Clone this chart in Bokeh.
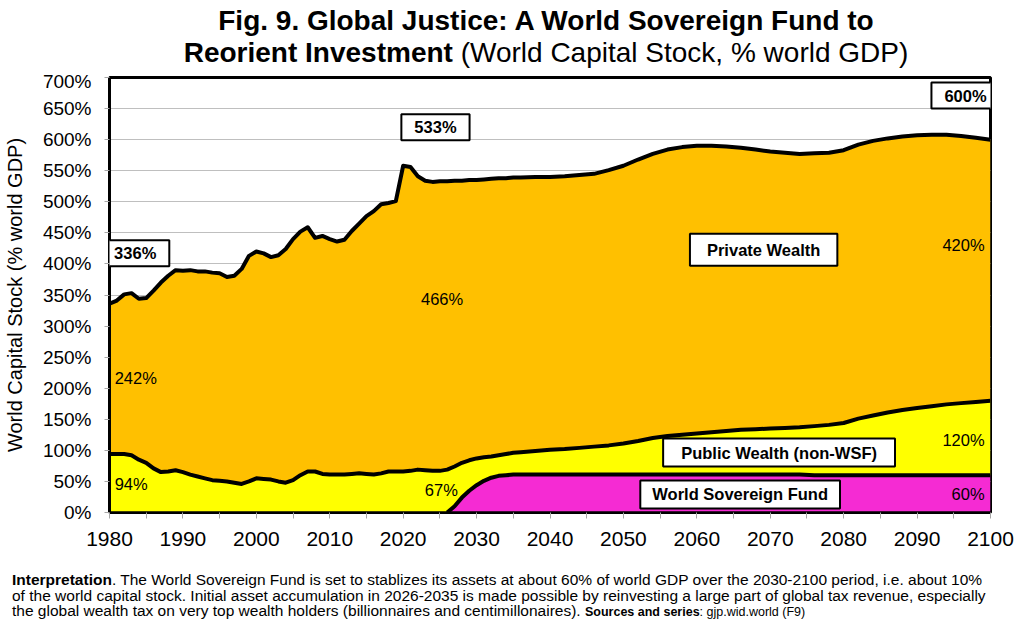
from bokeh.plotting import figure
from bokeh.layouts import column
from bokeh.models import (ColumnDataSource, Label, Range1d, FixedTicker,
                          PrintfTickFormatter, Div)
from bokeh.transform import stack
from bokeh.embed import file_html
from bokeh.resources import INLINE

# ---------------------------------------------------------------------------
# Data: world capital stock by owner, % of world GDP
# annual 1980-2035, then every two years to 2100
# ---------------------------------------------------------------------------
years = list(range(1980, 2036)) + list(range(2036, 2101, 2))

world_sovereign_fund = [
    # 1980-2025
    0, 0, 0, 0, 0, 0, 0, 0, 0, 0,
    0, 0, 0, 0, 0, 0, 0, 0, 0, 0,
    0, 0, 0, 0, 0, 0, 0, 0, 0, 0,
    0, 0, 0, 0, 0, 0, 0, 0, 0, 0,
    0, 0, 0, 0, 0, 0,
    # 2026-2035
    0, 10, 24, 35, 44, 51, 56, 59, 60, 61,
    # 2036-2100 (every 2 years)
    61, 61, 61, 61, 61, 61, 61, 61, 61, 61,
    61, 61, 61, 61, 61, 61, 61, 61, 61, 61,
    60, 60, 60, 60, 60, 60, 60, 60, 60, 60,
    60, 60, 60,
]

public_wealth = [
    # 1980-2025
    94, 94, 94, 92, 85, 80, 71, 65, 66, 68,
    65, 61, 58, 55, 52, 51, 50, 48, 46, 50,
    55, 54, 53, 50, 48, 52, 60, 66, 66, 62,
    61, 61, 61, 62, 63, 62, 61, 63, 66, 66,
    66, 67, 69, 68, 67, 67,
    # 2026-2035
    69, 64, 56, 49, 43, 38, 34, 33, 34, 35,
    # 2036-2100 (every 2 years)
    36, 38, 40, 41, 43, 45, 47, 50, 54, 59,
    62, 64, 66, 68, 70, 72, 73, 74, 75, 76,
    79, 81, 84, 91, 96, 101, 105, 108, 111, 114,
    116, 118, 120,
]

private_wealth = [
    # 1980-2025
    242, 247, 257, 261, 259, 265, 286, 305, 315, 322,
    324, 329, 330, 333, 334, 334, 329, 333, 346, 363,
    365, 363, 358, 364, 376, 388, 392, 393, 376, 383,
    379, 375, 378, 391, 402, 415, 424, 433, 432, 435,
    492, 489, 472, 466, 465, 466,
    # 2026-2035
    464, 460, 454, 451, 448, 447, 447, 446, 444, 443,
    # 2036-2100 (every 2 years)
    442, 441, 439, 439, 439, 439, 443, 447, 453, 457,
    461, 463, 463, 461, 458, 454, 450, 446, 443, 440,
    439, 438, 439, 441, 442, 441, 440, 439, 437, 434,
    430, 425, 420,
]

y_ticks = list(range(0, 701, 50))
x_ticks = list(range(1980, 2101, 10))
x_minor = list(range(1985, 2100, 10))

GOLD = "#FFC000"
YELLOW = "#FFFF00"
MAGENTA = "#F52BD3"
FONT = "Liberation Sans"

W = 1024
TITLE_H = 70      # title band
CHART_H = 495     # chart band (axes + plot frame)
NOTE_H = 67       # note band

# ---------------------------------------------------------------- title
title_html = (
    f"<div style=\"font-family:'{FONT}'; font-size:28px; line-height:32px; "
    "color:black; text-align:center; white-space:nowrap; "
    "padding:5px 0 0 68px; box-sizing:border-box; width:1024px;\">"
    "<b>Fig. 9. Global Justice: A World Sovereign Fund to</b><br>"
    "<b>Reorient Investment</b> (World Capital Stock, % world GDP)"
    "</div>"
)
title = Div(text=title_html, width=W, height=TITLE_H, margin=(0, 0, 0, 0))

# ---------------------------------------------------------------- chart
src = ColumnDataSource(dict(year=years, wsf=world_sovereign_fund,
                            public=public_wealth, private=private_wealth))
wsf_src = ColumnDataSource(dict(year=years[46:], wsf=world_sovereign_fund[46:]))

p = figure(width=W, height=CHART_H, output_backend="svg", toolbar_location=None,
           x_range=Range1d(1980, 2100), y_range=Range1d(0, 700),
           min_border_left=108, min_border_right=34,
           min_border_top=7, min_border_bottom=53)
p.background_fill_color = "white"
p.border_fill_color = "white"
p.outline_line_color = "black"
p.outline_line_width = 3

# stacked areas
p.varea_stack(stackers=["wsf", "public", "private"], x="year",
              color=[MAGENTA, YELLOW, GOLD], source=src)

# boundary lines
p.line(x="year", y="wsf", source=wsf_src, line_color="black", line_width=4,
       line_join="round")
p.line(x="year", y=stack("wsf", "public"), source=src, line_color="black",
       line_width=4, line_join="round")
p.line(x="year", y=stack("wsf", "public", "private"), source=src,
       line_color="black", line_width=4, line_join="round")

# axes
p.xaxis.ticker = FixedTicker(ticks=x_ticks, minor_ticks=x_minor)
p.yaxis.ticker = FixedTicker(ticks=y_ticks)
p.yaxis.formatter = PrintfTickFormatter(format="%d%%")
for ax in (p.xaxis, p.yaxis):
    ax.major_label_text_font = FONT
    ax.major_label_text_color = "black"
    ax.major_tick_line_color = "#A6A6A6"
    ax.minor_tick_line_color = "#A6A6A6"
    ax.major_tick_in = 0
    ax.minor_tick_in = 0
    ax.axis_line_color = "black"
p.xaxis.major_tick_out = 6
p.xaxis.minor_tick_out = 6
p.yaxis.major_tick_out = 5
p.yaxis.minor_tick_out = 0
p.xaxis.major_label_text_font_size = "21px"
p.yaxis.major_label_text_font_size = "19px"
p.xaxis.major_label_standoff = 13
p.yaxis.major_label_standoff = 13
p.xaxis.axis_line_width = 2.5
p.yaxis.axis_line_width = 3
p.yaxis.axis_label = "World Capital Stock (% world GDP)"
p.yaxis.axis_label_text_font = FONT
p.yaxis.axis_label_text_font_size = "20px"
p.yaxis.axis_label_text_font_style = "normal"
p.yaxis.axis_label_text_color = "black"
p.yaxis.axis_label_standoff = 14

p.xgrid.grid_line_color = None
p.ygrid.ticker = FixedTicker(ticks=y_ticks)
p.ygrid.grid_line_color = "#BFBFBF"
p.ygrid.grid_line_width = 1


def boxed(x, y, text, pad):
    p.add_layout(Label(x=x, y=y, text=text, text_font=FONT,
                       text_font_size="16.5px", text_font_style="bold",
                       text_color="black",
                       text_align="center", text_baseline="middle",
                       background_fill_color="white",
                       border_line_color="black", border_line_width=2,
                       padding=pad))


def plain(x, y, text, align="left"):
    p.add_layout(Label(x=x, y=y, text=text, text_font=FONT,
                       text_font_size="16.5px", text_color="black",
                       text_align=align, text_baseline="middle"))


# totals
boxed(1983.5, 417, "336%", (13, 4))
boxed(2024.4, 620, "533%", (13, 4))
boxed(2096.6, 671, "600%", (13, 4))

# series names
boxed(2069.1, 423, "Private Wealth", (17, 7))
boxed(2071.2, 96.5, "Public Wealth (non-WSF)", (18, 5))
boxed(2065.9, 29, "World Sovereign Fund", (12, 5))

# component values
plain(1980.7, 217, "242%")
plain(1980.7, 46, "94%")
plain(2025.3, 343, "466%", "center")
plain(2025.2, 36.5, "67%", "center")
plain(2099.2, 430, "420%", "right")
plain(2099.2, 116, "120%", "right")
plain(2099.2, 30, "60%", "right")

# ---------------------------------------------------------------- note
note_html = (
    f"<div style=\"font-family:'{FONT}'; font-size:15.5px; line-height:15.5px; "
    "color:black; white-space:nowrap; padding:7px 0 0 12px;\">"
    "<b>Interpretation</b>. The World Sovereign Fund is set to stablizes its "
    "assets at about 60% of world GDP over the 2030-2100 period, i.e. about 10%"
    "<br>of the world capital stock. Initial asset accumulation in 2026-2035 is "
    "made possible by reinvesting a large part of global tax revenue, especially"
    "<br>the global wealth tax on very top wealth holders (billionnaires and "
    "centimillonaires). <span style=\"font-size:12.5px;\"><b>Sources and "
    "series</b>: gjp.wid.world (F9)</span>"
    "</div>"
)
note = Div(text=note_html, width=W, height=NOTE_H, margin=(0, 0, 0, 0))

page = column(title, p, note, spacing=0)
open("out.html", "w").write(file_html(page, INLINE))
